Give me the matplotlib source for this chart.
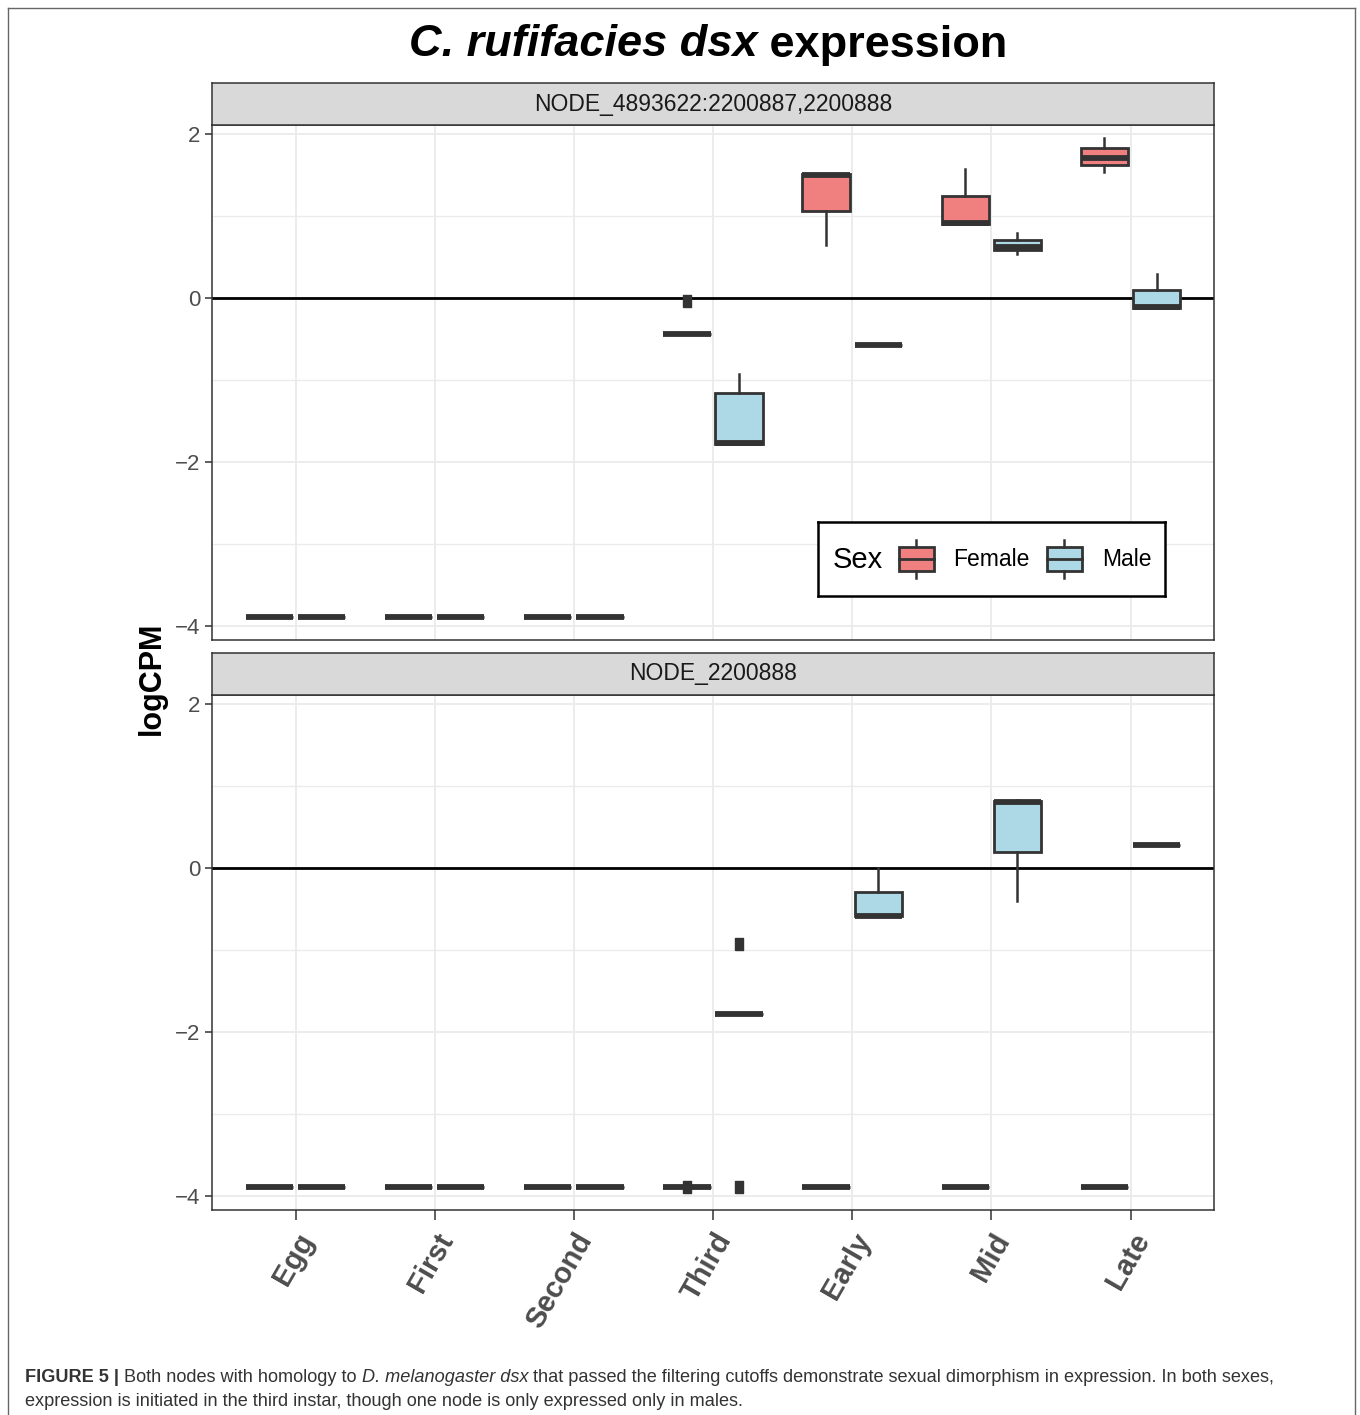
import numpy as np
import matplotlib
matplotlib.use("Agg")
import matplotlib.pyplot as plt
from matplotlib.lines import Line2D
from matplotlib.patches import Rectangle

plt.rcParams['font.family'] = ['Liberation Sans', 'DejaVu Sans']

# stages on the x axis
stages = ['Egg', 'First', 'Second', 'Third', 'Early', 'Mid', 'Late']
nodes = ['NODE_4893622:2200887,2200888', 'NODE_2200888']

# top panel, female: whisker low, q1, median, q3, whisker high
top_f_lo = [-3.89, -3.89, -3.89, -0.44, 0.65, 0.90, 1.54]
top_f_q1 = [-3.89, -3.89, -3.89, -0.44, 1.06, 0.90, 1.62]
top_f_med = [-3.89, -3.89, -3.89, -0.44, 1.50, 0.91, 1.71]
top_f_q3 = [-3.89, -3.89, -3.89, -0.44, 1.51, 1.24, 1.83]
top_f_hi = [-3.89, -3.89, -3.89, -0.44, 1.51, 1.57, 1.95]
top_f_out = [[], [], [], [-0.04], [], [], []]

# top panel, male
top_m_lo = [-3.89, -3.89, -3.89, -1.78, -0.57, 0.54, -0.12]
top_m_q1 = [-3.89, -3.89, -3.89, -1.78, -0.57, 0.58, -0.12]
top_m_med = [-3.89, -3.89, -3.89, -1.77, -0.57, 0.62, -0.11]
top_m_q3 = [-3.89, -3.89, -3.89, -1.16, -0.57, 0.71, 0.10]
top_m_hi = [-3.89, -3.89, -3.89, -0.93, -0.57, 0.79, 0.29]
top_m_out = [[], [], [], [], [], [], []]

# bottom panel, female
bot_f_lo = [-3.89, -3.89, -3.89, -3.89, -3.89, -3.89, -3.89]
bot_f_q1 = [-3.89, -3.89, -3.89, -3.89, -3.89, -3.89, -3.89]
bot_f_med = [-3.89, -3.89, -3.89, -3.89, -3.89, -3.89, -3.89]
bot_f_q3 = [-3.89, -3.89, -3.89, -3.89, -3.89, -3.89, -3.89]
bot_f_hi = [-3.89, -3.89, -3.89, -3.89, -3.89, -3.89, -3.89]
bot_f_out = [[], [], [], [-3.89], [], [], []]

# bottom panel, male
bot_m_lo = [-3.89, -3.89, -3.89, -1.78, -0.58, -0.40, 0.28]
bot_m_q1 = [-3.89, -3.89, -3.89, -1.78, -0.58, 0.20, 0.28]
bot_m_med = [-3.89, -3.89, -3.89, -1.78, -0.58, 0.80, 0.28]
bot_m_q3 = [-3.89, -3.89, -3.89, -1.78, -0.29, 0.82, 0.28]
bot_m_hi = [-3.89, -3.89, -3.89, -1.78, 0.00, 0.83, 0.28]
bot_m_out = [[], [], [], [-0.93, -3.89], [], [], []]

female_col = '#F08080'
male_col = '#ADD8E6'
edge = '#333333'

W, H = 1360, 1415
fig = plt.figure(figsize=(W / 100, H / 100), dpi=100)

# outliers look like small upright blocks in the original
out_marker = [(-0.65, -1), (0.65, -1), (0.65, 1), (-0.65, 1), (-0.65, -1)]


def make_stats(lo, q1, med, q3, hi, out):
    return [dict(whislo=a, q1=b, med=c, q3=d, whishi=e, fliers=f)
            for a, b, c, d, e, f in zip(lo, q1, med, q3, hi, out)]


def draw_boxes(ax, stats, pos, col):
    ax.bxp(stats, positions=pos, widths=0.34, patch_artist=True, showcaps=False,
           boxprops=dict(facecolor=col, edgecolor=edge, linewidth=2.0),
           medianprops=dict(color=edge, linewidth=4.2, solid_capstyle='butt'),
           whiskerprops=dict(color=edge, linewidth=1.8),
           flierprops=dict(marker=out_marker, markersize=8, markerfacecolor=edge,
                           markeredgecolor=edge))


def panel(bottom, title, fstats, mstats):
    left, width, height = 212 / W, 1002 / W, 515 / H
    ax = fig.add_axes([left, bottom, width, height])
    x = np.arange(1, len(stages) + 1)
    ax.set_ylim(-4.17, 2.11)
    ax.set_yticks([-4, -2, 0, 2])
    ax.set_yticklabels(['\u22124', '\u22122', '0', '2'])
    ax.set_yticks([-3, -1, 1], minor=True)
    ax.grid(True, which='major', color='#EBEBEB', linewidth=1.3)
    ax.grid(True, which='minor', axis='y', color='#EBEBEB', linewidth=1.0)
    ax.tick_params(axis='y', which='minor', length=0)
    ax.tick_params(axis='both', which='major', length=5, width=1.1, color=edge,
                   labelsize=16, labelcolor='#4D4D4D')
    ax.set_axisbelow(True)
    for s in ax.spines.values():
        s.set_color(edge)
        s.set_linewidth(1.1)
    ax.axhline(0, color='black', linewidth=2.0, zorder=1.5)
    draw_boxes(ax, fstats, x - 0.1875, female_col)
    draw_boxes(ax, mstats, x + 0.1875, male_col)
    ax.set_xlim(0.4, 7.6)
    ax.set_xticks(x)
    # strip
    sax = fig.add_axes([left, bottom + height, width, 42 / H])
    sax.set_facecolor('#D9D9D9')
    sax.set_xticks([])
    sax.set_yticks([])
    for s in sax.spines.values():
        s.set_color(edge)
        s.set_linewidth(1.1)
    sax.text(0.5, 0.5, title, ha='center', va='center', fontsize=16.5,
             color='#1A1A1A', transform=sax.transAxes)
    return ax


ax1 = panel(1 - 640 / H, nodes[0],
            make_stats(top_f_lo, top_f_q1, top_f_med, top_f_q3, top_f_hi, top_f_out),
            make_stats(top_m_lo, top_m_q1, top_m_med, top_m_q3, top_m_hi, top_m_out))
ax2 = panel(1 - 1210 / H, nodes[1],
            make_stats(bot_f_lo, bot_f_q1, bot_f_med, bot_f_q3, bot_f_hi, bot_f_out),
            make_stats(bot_m_lo, bot_m_q1, bot_m_med, bot_m_q3, bot_m_hi, bot_m_out))

ax1.tick_params(axis='x', labelbottom=False, length=0)
ax2.set_xticklabels(stages, rotation=60, ha='right', va='top', rotation_mode='anchor',
                    fontsize=21, fontweight='bold', color='#4D4D4D')
ax2.tick_params(axis='x', length=7, pad=6)

fig.text(152 / W, 1 - 678 / H, 'logCPM', rotation=90, ha='center', va='center',
         fontsize=22, fontweight='bold', color='black')

# legend inside top panel
lax = ax1.inset_axes([606 / 1002, 44 / 515, 347 / 1002, 74 / 515])
lax.set_xlim(0, 347)
lax.set_ylim(0, 74)
lax.set_xticks([])
lax.set_yticks([])
for s in lax.spines.values():
    s.set_color('black')
    s.set_linewidth(1.8)
lax.text(15, 36, 'Sex', fontsize=21, va='center', ha='left')
for x0, col, lab, tx in [(81, female_col, 'Female', 135), (229, male_col, 'Male', 284)]:
    lax.add_patch(Rectangle((x0, 25), 35, 24, facecolor=col, edgecolor=edge, linewidth=2.0))
    lax.plot([x0, x0 + 35], [37, 37], color=edge, linewidth=2.0)
    lax.plot([x0 + 17.5, x0 + 17.5], [18, 25], color=edge, linewidth=1.8)
    lax.plot([x0 + 17.5, x0 + 17.5], [49, 56], color=edge, linewidth=1.8)
    lax.text(tx, 36, lab, fontsize=16.5, va='center', ha='left')

renderer = fig.canvas.get_renderer()


def runs(parts, x, y, size, color, align='left'):
    widths = []
    for s, kw in parts:
        t = fig.text(0, 0, s, fontsize=size, **kw)
        widths.append(t.get_window_extent(renderer).width)
        t.remove()
    if align == 'center':
        x = x - sum(widths) / 2
    for (s, kw), w in zip(parts, widths):
        fig.text(x / W, 1 - y / H, s, fontsize=size, color=color, va='center', ha='left', **kw)
        x += w


runs([('C. rufifacies dsx', dict(fontweight='bold', fontstyle='italic')),
      (' expression', dict(fontweight='bold'))], 708, 45, 32.5, 'black', align='center')

runs([('FIGURE 5 |', dict(fontweight='bold')),
      (' Both nodes with homology to ', {}),
      ('D. melanogaster dsx', dict(fontstyle='italic')),
      (' that passed the filtering cutoffs demonstrate sexual dimorphism in expression. In both sexes,', {})],
     25, 1377, 13.1, '#333333')
runs([('expression is initiated in the third instar, though one node is only expressed only in males.', {})],
     25, 1401, 13.1, '#333333')

# outer frame
fc = '#666666'
fig.add_artist(Line2D([8 / W, 8 / W], [0, 1 - 8 / H], transform=fig.transFigure, color=fc, linewidth=1.0))
fig.add_artist(Line2D([1355 / W, 1355 / W], [0, 1 - 8 / H], transform=fig.transFigure, color=fc, linewidth=1.0))
fig.add_artist(Line2D([8 / W, 1355 / W], [1 - 8 / H, 1 - 8 / H], transform=fig.transFigure, color=fc, linewidth=1.0))

fig.savefig('out.png', dpi=100)
